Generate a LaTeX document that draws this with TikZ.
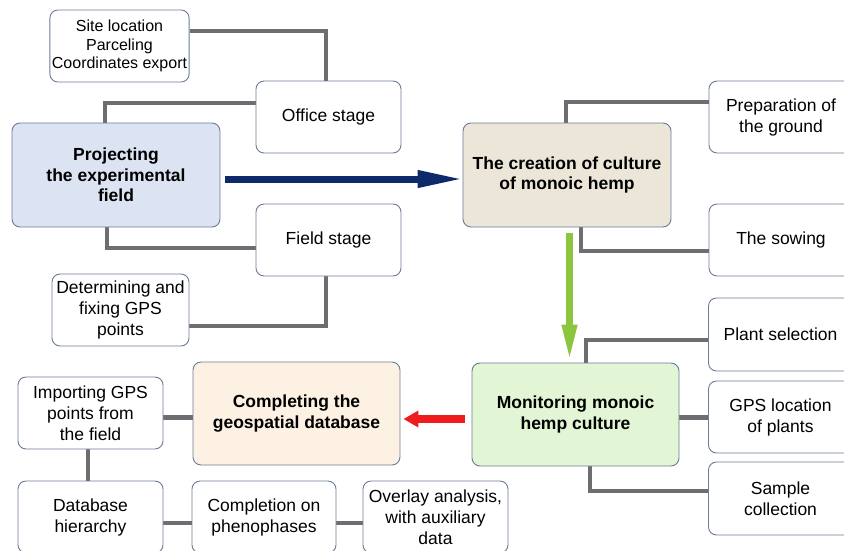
\documentclass[tikz,border=0pt]{standalone}
\usepackage{fontspec}
\setmainfont{Liberation Sans}
\usetikzlibrary{arrows.meta,backgrounds}
\definecolor{bordc}{HTML}{6C7A98}
\definecolor{connc}{HTML}{6E6E72}
\definecolor{projfill}{HTML}{DCE4F4}
\definecolor{creafill}{HTML}{ECE6D9}
\definecolor{monifill}{HTML}{E2F5D4}
\definecolor{compfill}{HTML}{FCF1E2}
\definecolor{navyc}{HTML}{0E2A6A}
\definecolor{greenc}{HTML}{8CC63F}
\definecolor{redc}{HTML}{EE1C1C}
\begin{document}
\begin{tikzpicture}[x=1pt,y=-1pt,
  box/.style={draw=bordc, line width=0.9pt, rounded corners=8pt, fill=white,
    align=center, inner sep=2pt, font=\fontsize{17.5}{21}\selectfont},
  mainbox/.style={box, font=\fontsize{17.5}{20.5}\selectfont\bfseries,
    minimum width=208pt, minimum height=104pt},
  smallbox/.style={box, minimum width=145pt, minimum height=72pt},
  rightbox/.style={box, minimum width=144pt, minimum height=72pt},
  conn/.style={draw=connc, line width=4.5pt}]
\useasboundingbox (0,0) rectangle (844,550);
\clip (0,0) rectangle (844,550);

% main boxes
\node[mainbox, fill=projfill] (proj) at (116,175) {Projecting\\the experimental\\field};
\node[mainbox, fill=creafill] (crea) at (567,175) {The creation of culture\\of monoic hemp};
\node[mainbox, fill=monifill, minimum width=207pt, minimum height=103pt] (moni) at (575.5,414.5) {Monitoring monoic\\hemp culture};
\node[mainbox, fill=compfill, minimum width=207pt, minimum height=103pt] (comp) at (296.5,413.5) {Completing the\\geospatial database};

% left upper
\node[box, minimum width=139pt, minimum height=72pt, font=\fontsize{16}{18.5}\selectfont] (site) at (119.5,46) {Site location\\Parceling\\Coordinates export};
\node[smallbox] (office) at (328.5,117) {Office stage};
\node[smallbox] (field) at (328.5,240) {Field stage};
\node[smallbox, minimum width=137pt] (determ) at (120.5,310) {Determining and\\fixing GPS\\points};

% right
\node[rightbox] (prep) at (781,117) {Preparation of\\the ground};
\node[rightbox] (sow) at (781,240) {The sowing};
\node[rightbox, minimum height=73pt] (plant) at (780.5,334.5) {Plant selection};
\node[rightbox] (gpsloc) at (780.5,417) {GPS location\\of plants};
\node[rightbox, minimum height=73pt] (sample) at (780.5,498.5) {Sample\\collection};

% bottom left
\node[smallbox] (import) at (90.5,413) {Importing GPS\\points from\\the field};
\node[smallbox] (dbase) at (90.5,517) {Database\\hierarchy};
\node[smallbox, minimum width=144pt] (complet) at (264,517) {Completion on\\phenophases};
\node[smallbox] (overlay) at (435.5,517) {Overlay analysis,\\with auxiliary\\data};

\begin{scope}[on background layer]
\draw[conn] ([yshift=15pt]site.east) -| ([xshift=-2.5pt]office.north);
\draw[conn] ([xshift=-11pt]proj.north) |- ([yshift=14pt]office.west);
\draw[conn] ([xshift=-9pt]proj.south) |- ([yshift=-8pt]field.west);
\draw[conn] ([xshift=-2.5pt]field.south) |- ([yshift=-16pt]determ.east);
\draw[conn] ([xshift=-1pt]crea.north) |- ([yshift=15pt]prep.west);
\draw[conn] ([xshift=14pt]crea.south) |- ([yshift=-11pt]sow.west);
\draw[conn] ([xshift=10.5pt]moni.north) |- ([yshift=-5.5pt]plant.west);
\draw[conn] ([yshift=-3pt]moni.east) -- ([yshift=-3pt]moni.east -| gpsloc.west);
\draw[conn] ([xshift=14.5pt]moni.south) |- ([yshift=7.5pt]sample.west);
\draw[conn] ([yshift=-4.5pt]import.east) -- ([yshift=-4.5pt]import.east -| comp.west);
\draw[conn] ([xshift=-2.5pt]import.south) -- ([xshift=-2.5pt]dbase.north);
\draw[conn] ([yshift=-6pt]dbase.east) -- ([yshift=-6pt]complet.west);
\draw[conn] ([yshift=-6pt]complet.east) -- ([yshift=-6pt]overlay.west);
\end{scope}

% flow arrows
\draw[navyc, line width=7pt, -{Triangle[length=46pt,width=16pt]}]
  ([xshift=5pt,yshift=-4pt]proj.east) -- ([xshift=1pt,yshift=-4pt]crea.west);
\draw[greenc, line width=7pt, -{Triangle[length=37pt,width=14pt]}]
  ([xshift=2.5pt,yshift=-6pt]crea.south) -- ([xshift=-6pt,yshift=1pt]moni.north);
\draw[redc, line width=8pt, -{Triangle[length=15pt,width=16pt]}]
  ([xshift=-7pt,yshift=-4.5pt]moni.west) -- ([xshift=3pt,yshift=-5.5pt]comp.east);
\end{tikzpicture}
\end{document}
